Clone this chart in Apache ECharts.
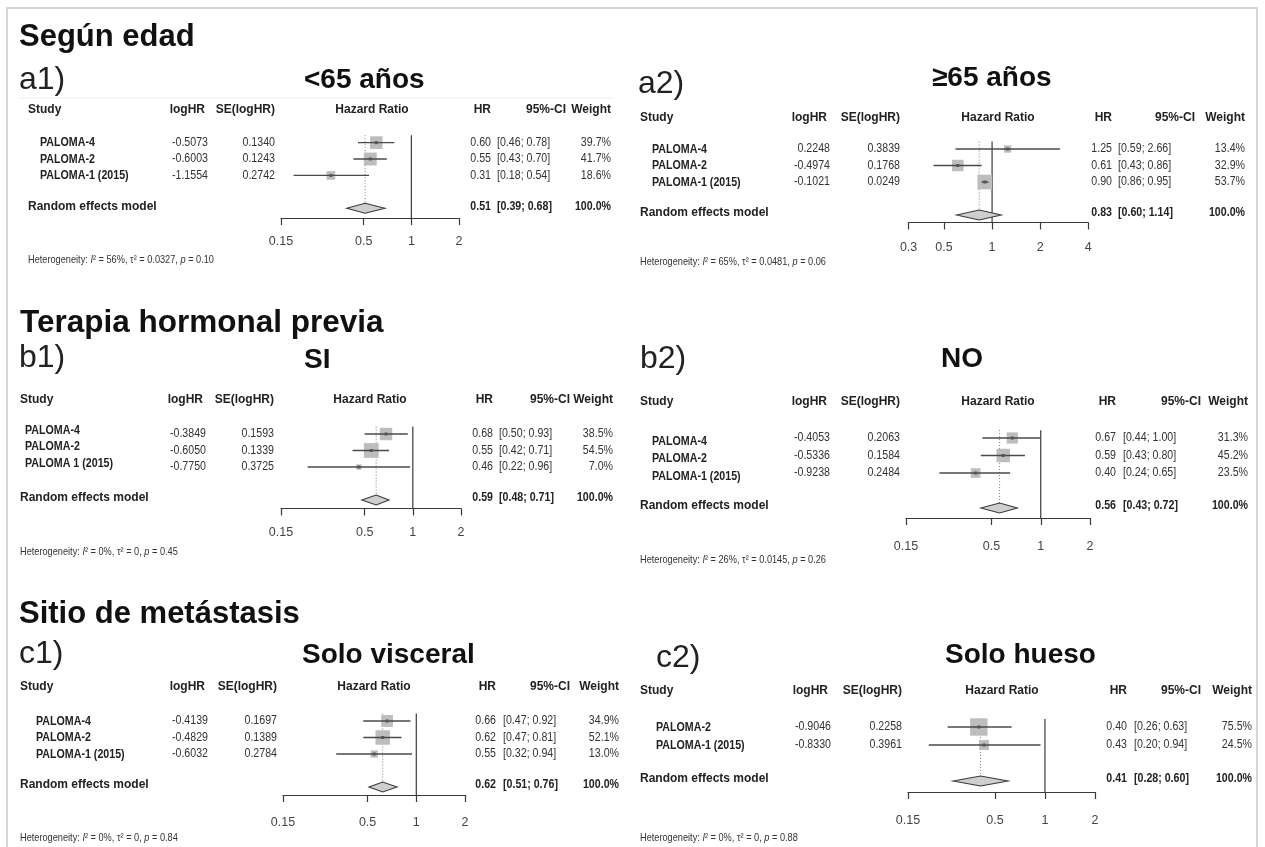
<!DOCTYPE html>
<html>
<head>
<meta charset="utf-8">
<script src="https://cdn.jsdelivr.net/npm/echarts@6/dist/echarts.min.js"></script>
<style>
  html, body { margin: 0; padding: 0; background: #fff; }
  #chart { width: 1265px; height: 847px; }
</style>
</head>
<body>
<div id="chart"></div>
<script>
// ---------- a1) <65 años ----------
const studiesA1 = ['PALOMA-4', 'PALOMA-2', 'PALOMA-1 (2015)'];
const logHrA1 = [-0.5073, -0.6003, -1.1554];
const seA1 = [0.1340, 0.1243, 0.2742];
const hrA1 = [0.60, 0.55, 0.31];
const ciLowA1 = [0.46, 0.43, 0.18];
const ciHighA1 = [0.78, 0.70, 0.54];
const weightA1 = [39.7, 41.7, 18.6];
const pooledA1 = [0.51, 0.39, 0.68];        // HR, lower, upper
const hetA1 = ['56%', '0.0327', '0.10'];     // I², tau², p
const ticksA1 = [0.15, 0.5, 1, 2];

// ---------- a2) ≥65 años ----------
const studiesA2 = ['PALOMA-4', 'PALOMA-2', 'PALOMA-1 (2015)'];
const logHrA2 = [0.2248, -0.4974, -0.1021];
const seA2 = [0.3839, 0.1768, 0.0249];
const hrA2 = [1.25, 0.61, 0.90];
const ciLowA2 = [0.59, 0.43, 0.86];
const ciHighA2 = [2.66, 0.86, 0.95];
const weightA2 = [13.4, 32.9, 53.7];
const pooledA2 = [0.83, 0.60, 1.14];
const hetA2 = ['65%', '0.0481', '0.06'];
const ticksA2 = [0.3, 0.5, 1, 2, 4];

// ---------- b1) SI ----------
const studiesB1 = ['PALOMA-4', 'PALOMA-2', 'PALOMA 1 (2015)'];
const logHrB1 = [-0.3849, -0.6050, -0.7750];
const seB1 = [0.1593, 0.1339, 0.3725];
const hrB1 = [0.68, 0.55, 0.46];
const ciLowB1 = [0.50, 0.42, 0.22];
const ciHighB1 = [0.93, 0.71, 0.96];
const weightB1 = [38.5, 54.5, 7.0];
const pooledB1 = [0.59, 0.48, 0.71];
const hetB1 = ['0%', '0', '0.45'];
const ticksB1 = [0.15, 0.5, 1, 2];

// ---------- b2) NO ----------
const studiesB2 = ['PALOMA-4', 'PALOMA-2', 'PALOMA-1 (2015)'];
const logHrB2 = [-0.4053, -0.5336, -0.9238];
const seB2 = [0.2063, 0.1584, 0.2484];
const hrB2 = [0.67, 0.59, 0.40];
const ciLowB2 = [0.44, 0.43, 0.24];
const ciHighB2 = [1.00, 0.80, 0.65];
const weightB2 = [31.3, 45.2, 23.5];
const pooledB2 = [0.56, 0.43, 0.72];
const hetB2 = ['26%', '0.0145', '0.26'];
const ticksB2 = [0.15, 0.5, 1, 2];

// ---------- c1) Solo visceral ----------
const studiesC1 = ['PALOMA-4', 'PALOMA-2', 'PALOMA-1 (2015)'];
const logHrC1 = [-0.4139, -0.4829, -0.6032];
const seC1 = [0.1697, 0.1389, 0.2784];
const hrC1 = [0.66, 0.62, 0.55];
const ciLowC1 = [0.47, 0.47, 0.32];
const ciHighC1 = [0.92, 0.81, 0.94];
const weightC1 = [34.9, 52.1, 13.0];
const pooledC1 = [0.62, 0.51, 0.76];
const hetC1 = ['0%', '0', '0.84'];
const ticksC1 = [0.15, 0.5, 1, 2];

// ---------- c2) Solo hueso ----------
const studiesC2 = ['PALOMA-2', 'PALOMA-1 (2015)'];
const logHrC2 = [-0.9046, -0.8330];
const seC2 = [0.2258, 0.3961];
const hrC2 = [0.40, 0.43];
const ciLowC2 = [0.26, 0.20];
const ciHighC2 = [0.63, 0.94];
const weightC2 = [75.5, 24.5];
const pooledC2 = [0.41, 0.28, 0.60];
const hetC2 = ['0%', '0', '0.88'];
const ticksC2 = [0.15, 0.5, 1, 2];

// Headings
const sectionTitles = ['Según edad', 'Terapia hormonal previa', 'Sitio de metástasis'];
const panelTags = ['a1)', 'a2)', 'b1)', 'b2)', 'c1)', 'c2)'];
const panelTitles = ['<65 años', '≥65 años', 'SI', 'NO', 'Solo visceral', 'Solo hueso'];

// ---------- fonts & layout ----------
const SANS = "'Liberation Sans', Arial, Helvetica, sans-serif";
const NUM_SQUEEZE = 0.85;    // horizontal squeeze giving a narrow face for the table figures
const NAME_SQUEEZE = 0.82;
const HET_SQUEEZE = 0.8;

// Pixel layout of each forest panel (plot strip + text columns)
const boxes = [
  { gridLeft: 281, gridWidth: 178, row1: 142.6, step: 16.4, axisY: 218, labelMargin: 17,
    studyX: 28, nameX: 40, nameDy: 0, logHrRight: 208, seRight: 275, hdrY: 110, hrHdrX: 372,
    hrRight: 491, ciLeft: 497, ciHdrRight: 566, wRight: 611, hetX: 28, hetY: 260 },
  { gridLeft: 908.6, gridWidth: 179.6, row1: 149, step: 16.5, axisY: 222.5, labelMargin: 19,
    studyX: 640, nameX: 652, nameDy: 0, logHrRight: 830, seRight: 900, hdrY: 118, hrHdrX: 998,
    hrRight: 1112, ciLeft: 1118, ciHdrRight: 1195, wRight: 1245, hetX: 640, hetY: 262 },
  { gridLeft: 281, gridWidth: 180, row1: 434, step: 16.5, axisY: 508.5, labelMargin: 18,
    studyX: 20, nameX: 25, nameDy: -4, logHrRight: 206, seRight: 274, hdrY: 400, hrHdrX: 370,
    hrRight: 493, ciLeft: 499, ciHdrRight: 570, wRight: 613, hetX: 20, hetY: 552 },
  { gridLeft: 906, gridWidth: 184, row1: 438, step: 17.5, axisY: 518, labelMargin: 22,
    studyX: 640, nameX: 652, nameDy: 3, logHrRight: 830, seRight: 900, hdrY: 402, hrHdrX: 998,
    hrRight: 1116, ciLeft: 1123, ciHdrRight: 1201, wRight: 1248, hetX: 640, hetY: 560 },
  { gridLeft: 283, gridWidth: 182, row1: 721, step: 16.5, axisY: 795, labelMargin: 21,
    studyX: 20, nameX: 36, nameDy: 0, logHrRight: 208, seRight: 277, hdrY: 687, hrHdrX: 374,
    hrRight: 496, ciLeft: 503, ciHdrRight: 570, wRight: 619, hetX: 20, hetY: 838 },
  { gridLeft: 908, gridWidth: 187, row1: 727, step: 18, axisY: 792, labelMargin: 22,
    studyX: 640, nameX: 656, nameDy: 0, logHrRight: 831, seRight: 902, hdrY: 691, hrHdrX: 1002,
    hrRight: 1127, ciLeft: 1134, ciHdrRight: 1201, wRight: 1252, hetX: 640, hetY: 838 }
];

const panels = [
  { studies: studiesA1, logHr: logHrA1, se: seA1, hr: hrA1, lo: ciLowA1, hi: ciHighA1, w: weightA1, pooled: pooledA1, het: hetA1, ticks: ticksA1 },
  { studies: studiesA2, logHr: logHrA2, se: seA2, hr: hrA2, lo: ciLowA2, hi: ciHighA2, w: weightA2, pooled: pooledA2, het: hetA2, ticks: ticksA2 },
  { studies: studiesB1, logHr: logHrB1, se: seB1, hr: hrB1, lo: ciLowB1, hi: ciHighB1, w: weightB1, pooled: pooledB1, het: hetB1, ticks: ticksB1 },
  { studies: studiesB2, logHr: logHrB2, se: seB2, hr: hrB2, lo: ciLowB2, hi: ciHighB2, w: weightB2, pooled: pooledB2, het: hetB2, ticks: ticksB2 },
  { studies: studiesC1, logHr: logHrC1, se: seC1, hr: hrC1, lo: ciLowC1, hi: ciHighC1, w: weightC1, pooled: pooledC1, het: hetC1, ticks: ticksC1 },
  { studies: studiesC2, logHr: logHrC2, se: seC2, hr: hrC2, lo: ciLowC2, hi: ciHighC2, w: weightC2, pooled: pooledC2, het: hetC2, ticks: ticksC2 }
];

// ---------- helpers ----------
function textEl(text, x, y, align, font, fill, sx) {
  return {
    type: 'text', x: x, y: y, scaleX: sx || 1, scaleY: 1,
    style: {
      text: text, font: font, fill: fill || '#222',
      align: align, verticalAlign: 'middle',
      textAlign: align, textVerticalAlign: 'middle'
    }
  };
}

const HDR_FONT = 'bold 12px ' + SANS;
const NAME_FONT = 'bold 13px ' + SANS;
const NUM_FONT = '12.5px ' + SANS;
const NUM_BOLD = 'bold 12.5px ' + SANS;

const grids = [], xAxes = [], yAxes = [], series = [];

panels.forEach(function (p, idx) {
  const B = boxes[idx];
  const top = B.row1 - B.step;
  const maxRow = (B.axisY - top) / B.step;
  const n = p.studies.length;
  const sumRow = n + 2;
  const tickLn = p.ticks.map(function (t) { return Math.log(t); });

  grids.push({ left: B.gridLeft, top: top, width: B.gridWidth, height: B.axisY - top });

  xAxes.push({
    gridIndex: idx, type: 'value',
    min: tickLn[0], max: tickLn[tickLn.length - 1],
    axisLine: { show: true, onZero: false, lineStyle: { color: '#3a3a3a', width: 1.2 } },
    axisTick: { show: true, length: 7, customValues: tickLn, lineStyle: { color: '#3a3a3a', width: 1.2 } },
    axisLabel: {
      customValues: tickLn, margin: B.labelMargin, color: '#444',
      fontFamily: SANS, fontSize: 12.5,
      formatter: function (v) {
        for (let k = 0; k < tickLn.length; k++) {
          if (Math.abs(tickLn[k] - v) < 1e-6) return String(p.ticks[k]);
        }
        return '';
      }
    },
    splitLine: { show: false }
  });

  yAxes.push({ gridIndex: idx, type: 'value', inverse: true, min: 0, max: maxRow, show: false });

  series.push({
    type: 'custom',
    xAxisIndex: idx, yAxisIndex: idx,
    clip: false, silent: true,
    data: [[0, 0]],
    renderItem: function (params, api) {
      const at = function (hr, row) { return api.coord([Math.log(hr), row]); };
      const kids = [];
      const dh = 5;

      // solid line of no effect (HR = 1)
      const r1 = at(1, 0.55), r2 = at(1, maxRow);
      kids.push({ type: 'line', shape: { x1: r1[0], y1: r1[1], x2: r2[0], y2: r2[1] },
        style: { stroke: '#3a3a3a', lineWidth: 1.2 } });

      // dotted line at the pooled estimate
      const q1 = at(p.pooled[0], 0.55), q2 = at(p.pooled[0], sumRow);
      kids.push({ type: 'line', shape: { x1: q1[0], y1: q1[1], x2: q2[0], y2: q2[1] - dh },
        style: { stroke: '#777', lineWidth: 1, lineDash: [1, 2] } });

      // study rows: weighted square, CI whisker, centre point
      for (let i = 0; i < n; i++) {
        const row = i + 1;
        const c = at(p.hr[i], row), a = at(p.lo[i], row), b = at(p.hi[i], row);
        const s = 2.0 * Math.sqrt(p.w[i]);
        kids.push({ type: 'rect', shape: { x: c[0] - s / 2, y: c[1] - s / 2, width: s, height: s },
          style: { fill: '#bdbdbd' } });
        kids.push({ type: 'line', shape: { x1: a[0], y1: a[1], x2: b[0], y2: b[1] },
          style: { stroke: '#4a4a4a', lineWidth: 1.4 } });
        kids.push({ type: 'rect', shape: { x: c[0] - 1.5, y: c[1] - 1.5, width: 3, height: 3 },
          style: { fill: '#555' } });

        const y = c[1];
        kids.push(textEl(p.studies[i], B.nameX, y + B.nameDy, 'left', NAME_FONT, '#222', NAME_SQUEEZE));
        kids.push(textEl(p.logHr[i].toFixed(4), B.logHrRight, y, 'right', NUM_FONT, '#333', NUM_SQUEEZE));
        kids.push(textEl(p.se[i].toFixed(4), B.seRight, y, 'right', NUM_FONT, '#333', NUM_SQUEEZE));
        kids.push(textEl(p.hr[i].toFixed(2), B.hrRight, y, 'right', NUM_FONT, '#333', NUM_SQUEEZE));
        kids.push(textEl('[' + p.lo[i].toFixed(2) + '; ' + p.hi[i].toFixed(2) + ']', B.ciLeft, y, 'left', NUM_FONT, '#333', NUM_SQUEEZE));
        kids.push(textEl(p.w[i].toFixed(1) + '%', B.wRight, y, 'right', NUM_FONT, '#333', NUM_SQUEEZE));
      }

      // pooled random-effects diamond
      const d0 = at(p.pooled[1], sumRow), dc = at(p.pooled[0], sumRow), d1 = at(p.pooled[2], sumRow);
      kids.push({ type: 'polygon',
        shape: { points: [d0, [dc[0], dc[1] - dh], d1, [dc[0], dc[1] + dh]] },
        style: { fill: '#cfcfcf', stroke: '#3a3a3a', lineWidth: 1.1 } });

      const sy = dc[1] - 2;
      const total = p.w.reduce(function (s, v) { return s + v; }, 0);
      kids.push(textEl('Random effects model', B.studyX, sy, 'left', HDR_FONT, '#222'));
      kids.push(textEl(p.pooled[0].toFixed(2), B.hrRight, sy, 'right', NUM_BOLD, '#222', NUM_SQUEEZE));
      kids.push(textEl('[' + p.pooled[1].toFixed(2) + '; ' + p.pooled[2].toFixed(2) + ']', B.ciLeft, sy, 'left', NUM_BOLD, '#222', NUM_SQUEEZE));
      kids.push(textEl(total.toFixed(1) + '%', B.wRight, sy, 'right', NUM_BOLD, '#222', NUM_SQUEEZE));

      // column headers
      kids.push(textEl('Study', B.studyX, B.hdrY, 'left', HDR_FONT, '#222'));
      kids.push(textEl('logHR', B.logHrRight - 3, B.hdrY, 'right', HDR_FONT, '#222'));
      kids.push(textEl('SE(logHR)', B.seRight, B.hdrY, 'right', HDR_FONT, '#222'));
      kids.push(textEl('Hazard Ratio', B.hrHdrX, B.hdrY, 'center', HDR_FONT, '#222'));
      kids.push(textEl('HR', B.hrRight, B.hdrY, 'right', HDR_FONT, '#222'));
      kids.push(textEl('95%-CI', B.ciHdrRight, B.hdrY, 'right', HDR_FONT, '#222'));
      kids.push(textEl('Weight', B.wRight, B.hdrY, 'right', HDR_FONT, '#222'));

      // heterogeneity statistics
      kids.push({
        type: 'text', x: B.hetX, y: B.hetY, scaleX: HET_SQUEEZE, scaleY: 1,
        style: {
          text: '{n|Heterogeneity: }{i|I}{n|² = ' + p.het[0] + ', τ² = ' + p.het[1] + ', }{i|p}{n| = ' + p.het[2] + '}',
          font: '11.5px ' + SANS, fill: '#333',
          align: 'left', verticalAlign: 'middle', textAlign: 'left', textVerticalAlign: 'middle',
          rich: {
            n: { fontFamily: SANS, fontSize: 11.5, fill: '#333', color: '#333' },
            i: { fontFamily: SANS, fontSize: 11.5, fontStyle: 'italic', fill: '#333', color: '#333' }
          }
        }
      });

      return { type: 'group', children: kids };
    }
  });
});

// ---------- headings & frame ----------
const TITLE_FONT = 'bold 31px ' + SANS;
const TAG_FONT = '32px ' + SANS;
const SUB_FONT = 'bold 28px ' + SANS;

const headingEls = [
  { type: 'rect', shape: { x: 7, y: 8, width: 1250, height: 860 },
    style: { fill: 'none', stroke: '#d6d6d6', lineWidth: 2 } },
  { type: 'line', shape: { x1: 20, y1: 98, x2: 612, y2: 98 }, style: { stroke: '#ededed', lineWidth: 1 } },
  textEl(sectionTitles[0], 19, 37, 'left', TITLE_FONT, '#111'),
  textEl(sectionTitles[1], 20, 323, 'left', 'bold 31.5px ' + SANS, '#111'),
  textEl(sectionTitles[2], 19, 614, 'left', TITLE_FONT, '#111'),
  textEl(panelTags[0], 19, 80, 'left', TAG_FONT, '#222'),
  textEl(panelTags[1], 638, 84, 'left', TAG_FONT, '#222'),
  textEl(panelTags[2], 19, 358, 'left', TAG_FONT, '#222'),
  textEl(panelTags[3], 640, 359, 'left', TAG_FONT, '#222'),
  textEl(panelTags[4], 19, 654, 'left', TAG_FONT, '#222'),
  textEl(panelTags[5], 656, 658, 'left', TAG_FONT, '#222'),
  textEl(panelTitles[0], 304, 80, 'left', SUB_FONT, '#111'),
  textEl(panelTitles[1], 932, 78, 'left', SUB_FONT, '#111'),
  textEl(panelTitles[2], 304, 360, 'left', SUB_FONT, '#111'),
  textEl(panelTitles[3], 941, 359, 'left', SUB_FONT, '#111'),
  textEl(panelTitles[4], 302, 655, 'left', SUB_FONT, '#111'),
  textEl(panelTitles[5], 945, 655, 'left', SUB_FONT, '#111')
];

const chart = echarts.init(document.getElementById('chart'), null, { renderer: 'canvas' });
chart.setOption({
  animation: false,
  backgroundColor: '#ffffff',
  grid: grids,
  xAxis: xAxes,
  yAxis: yAxes,
  series: series,
  graphic: { elements: headingEls }
});
</script>
</body>
</html>
